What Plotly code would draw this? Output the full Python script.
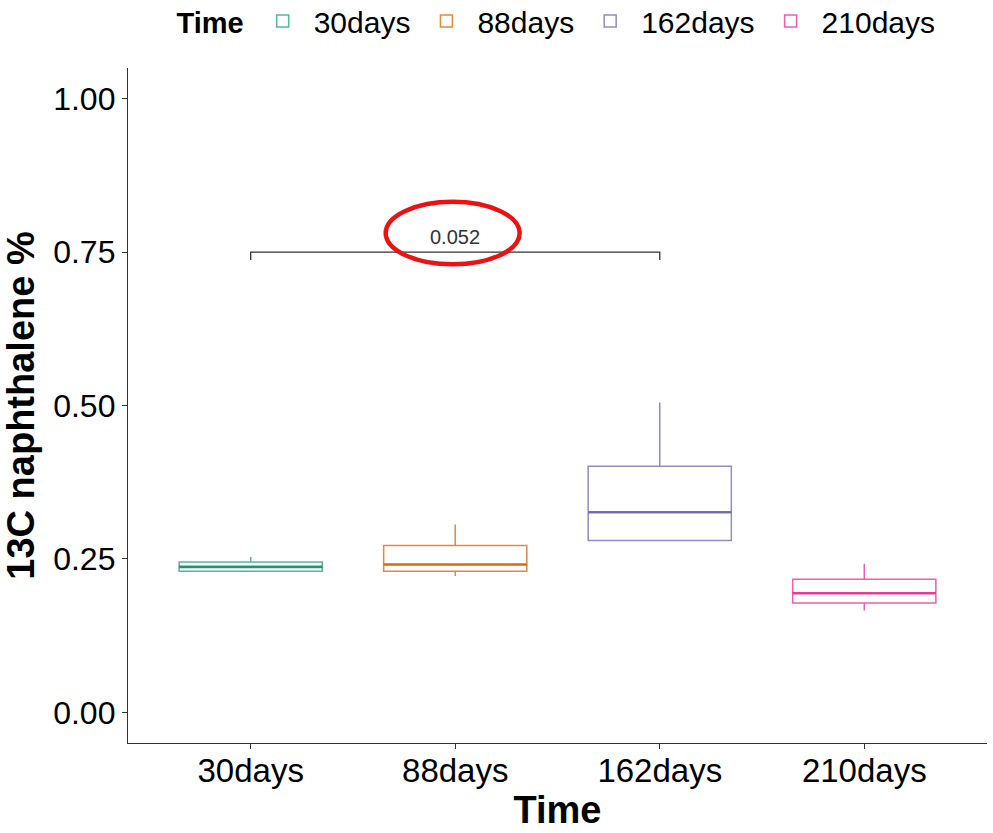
import plotly.graph_objects as go

categories = ["30days", "88days", "162days", "210days"]
q1 = [0.230, 0.230, 0.280, 0.178]
median = [0.237, 0.241, 0.326, 0.194]
q3 = [0.245, 0.272, 0.401, 0.217]
lower = [0.229, 0.222, 0.280, 0.166]
upper = [0.253, 0.306, 0.505, 0.242]
colors = ["rgba(27,158,119,0.75)", "rgba(217,95,2,0.75)", "rgba(117,112,179,0.8)", "rgba(231,41,138,0.75)"]
med_colors = ["rgba(27,140,105,0.9)", "rgba(217,95,2,0.85)", "rgba(110,105,170,0.9)", "rgba(231,41,138,0.85)"]

pval_text = "0.052"
pval_y = 0.75
pval_groups = (0, 2)

FONT = "Liberation Sans, Arial, sans-serif"
box_w = 0.7

fig = go.Figure()
for i, c in enumerate(categories):
    fig.add_trace(go.Box(
        x=[i + 1], q1=[q1[i]], median=[median[i]], q3=[q3[i]],
        lowerfence=[lower[i]], upperfence=[upper[i]],
        name=c, width=box_w, whiskerwidth=0,
        line=dict(color=colors[i], width=1.5),
        fillcolor="rgba(255,255,255,0)", boxpoints=False,
        legendgroup=c, showlegend=True, hoverinfo="skip",
    ))
    fig.add_trace(go.Scatter(
        x=[i + 1 - box_w / 2, i + 1 + box_w / 2], y=[median[i], median[i]],
        mode="lines", line=dict(color=med_colors[i], width=2.6),
        showlegend=False, legendgroup=c, hoverinfo="skip",
    ))

# significance bracket
xa, xb = pval_groups[0] + 1, pval_groups[1] + 1
fig.add_trace(go.Scatter(
    x=[xa, xa, xb, xb], y=[pval_y - 0.013, pval_y, pval_y, pval_y - 0.013],
    mode="lines", line=dict(color="#333333", width=1.3),
    showlegend=False, hoverinfo="skip",
))
fig.add_annotation(x=(xa + xb) / 2, y=pval_y, text=pval_text, showarrow=False,
                   yanchor="bottom", yshift=2, font=dict(family=FONT, size=20, color="#333333"))
fig.add_shape(type="circle", xref="x", yref="y", x0=1.66, x1=2.315, y0=0.730, y1=0.832,
              line=dict(color="#EE1111", width=4.5))

fig.update_layout(
    width=993, height=833,
    margin=dict(l=128, r=6, t=68, b=90, autoexpand=False),
    paper_bgcolor="white", plot_bgcolor="white",
    font=dict(family=FONT, color="black"),
    legend=dict(orientation="h", x=0.5, xanchor="center", xref="paper",
                y=1 - 21 / 833, yanchor="middle", yref="container",
                title=dict(text="<b>Time</b>", font=dict(size=29)),
                font=dict(size=30), itemwidth=52),
    xaxis=dict(range=[0.4, 4.6], tickmode="array", tickvals=[1, 2, 3, 4], ticktext=categories,
               showline=True, linecolor="#333333", linewidth=1.3, ticks="outside", ticklen=5,
               tickcolor="#333333", showgrid=False, zeroline=False, ticklabelstandoff=-7,
               tickfont=dict(size=33, color="black"),
               title=dict(text="<b>Time</b>", font=dict(size=38), standoff=0)),
    yaxis=dict(range=[-0.05, 1.05], tickvals=[0, 0.25, 0.5, 0.75, 1.0],
               ticktext=["0.00", "0.25", "0.50", "0.75", "1.00"],
               showline=True, linecolor="#333333", linewidth=1.3, ticks="outside", ticklen=5,
               tickcolor="#333333", showgrid=False, zeroline=False,
               tickfont=dict(size=32, color="black"),
               title=dict(text="<b>13C naphthalene %</b>", font=dict(size=38), standoff=6)),
)

fig.write_html("out.html")
